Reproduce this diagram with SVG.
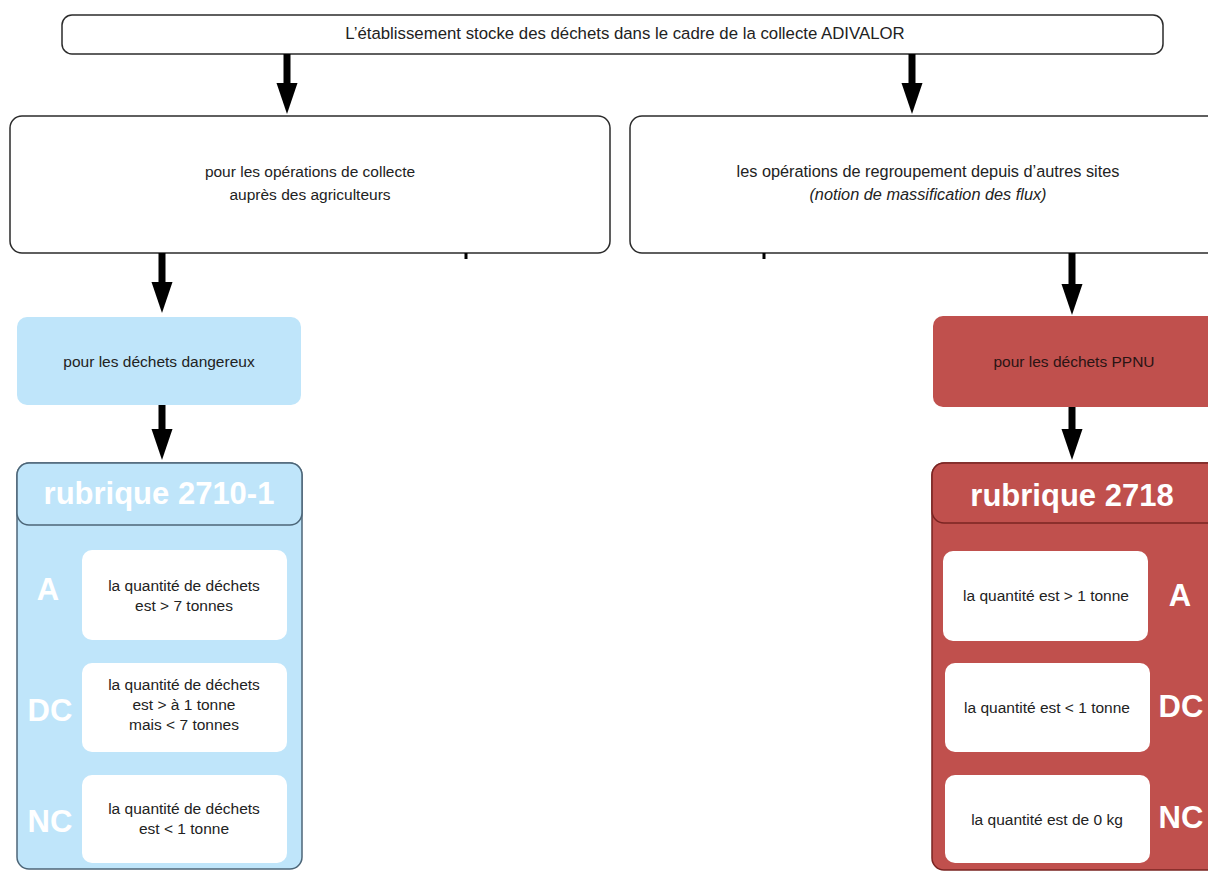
<svg xmlns="http://www.w3.org/2000/svg" width="1208" height="872" viewBox="0 0 1208 872">
<defs>
<style>
.box{fill:#ffffff;stroke:#2b2b2b;stroke-width:1.5}
.t{font-family:"Liberation Sans",Arial,sans-serif;font-size:15.5px;fill:#222;text-anchor:middle}
.ti{font-style:italic}
.blue{fill:#bfe5fa}
.bluec{fill:#bfe5fa;stroke:#4d6678;stroke-width:1.5}
.red{fill:#c0504d}
.redc{fill:#c0504d;stroke:#7a2422;stroke-width:1.5}
.inner{fill:#ffffff}
.hdr{font-family:"Liberation Sans",Arial,sans-serif;font-weight:bold;font-size:31px;fill:#ffffff;text-anchor:middle}
.big{font-family:"Liberation Sans",Arial,sans-serif;font-weight:bold;font-size:31px;fill:#ffffff;text-anchor:middle}
.shaft{stroke:#000;stroke-width:7;fill:none}
.head{fill:#000}
</style>
</defs>

<g id="n-top">
<rect class="box" x="62" y="15" width="1101" height="39" rx="10"/>
<text class="t" x="625" y="39" style="font-size:16.8px">L’établissement stocke des déchets dans le cadre de la collecte ADIVALOR</text>
</g>

<g id="n-collecte">
<rect class="box" x="10" y="116" width="600" height="137" rx="12"/>
<text class="t" x="310" y="177">pour les opérations de collecte</text>
<text class="t" x="310" y="200">auprès des agriculteurs</text>
</g>

<g id="n-regroupement">
<rect class="box" x="630" y="116" width="590" height="137" rx="12"/>
<text class="t" x="928" y="177" style="font-size:16.3px">les opérations de regroupement depuis d’autres sites</text>
<text class="t ti" x="928" y="200" style="font-size:16.3px">(notion de massification des flux)</text>
</g>

<g id="n-dangereux">
<rect class="blue" x="17" y="317" width="284" height="88" rx="10"/>
<text class="t" x="159" y="367">pour les déchets dangereux</text>
</g>

<g id="n-ppnu">
<rect class="red" x="933" y="316" width="285" height="91" rx="10"/>
<text class="t" x="1074" y="367" style="fill:#2a1414">pour les déchets PPNU</text>
</g>

<g id="n-rubrique-2710">
<rect class="bluec" x="17" y="463" width="285" height="406" rx="12"/>
<rect class="bluec" x="17" y="463" width="285" height="62" rx="12"/>
<text class="hdr" x="159" y="504">rubrique 2710-1</text>
<text class="big" x="48" y="600">A</text>
<text class="big" x="50" y="721">DC</text>
<text class="big" x="50" y="832">NC</text>
<rect class="inner" x="82" y="550" width="205" height="90" rx="10"/>
<text class="t" x="184" y="591">la quantité de déchets</text>
<text class="t" x="184" y="611">est &gt; 7 tonnes</text>
<rect class="inner" x="82" y="663" width="205" height="89" rx="10"/>
<text class="t" x="184" y="690">la quantité de déchets</text>
<text class="t" x="184" y="710">est &gt; à 1 tonne</text>
<text class="t" x="184" y="730">mais &lt; 7 tonnes</text>
<rect class="inner" x="82" y="775" width="205" height="88" rx="10"/>
<text class="t" x="184" y="814">la quantité de déchets</text>
<text class="t" x="184" y="834">est &lt; 1 tonne</text>
</g>

<g id="n-rubrique-2718">
<rect class="redc" x="932" y="463" width="290" height="407" rx="12"/>
<rect class="redc" x="932" y="463" width="290" height="60" rx="12"/>
<text class="hdr" x="1072" y="506">rubrique 2718</text>
<rect class="inner" x="943" y="551" width="205" height="90" rx="10"/>
<text class="t" x="1046" y="601">la quantité est &gt; 1 tonne</text>
<rect class="inner" x="945" y="663" width="205" height="89" rx="10"/>
<text class="t" x="1047" y="713">la quantité est &lt; 1 tonne</text>
<rect class="inner" x="945" y="775" width="205" height="88" rx="10"/>
<text class="t" x="1047" y="825">la quantité est de 0 kg</text>
<text class="big" x="1180" y="606">A</text>
<text class="big" x="1181" y="717">DC</text>
<text class="big" x="1181" y="828">NC</text>
</g>

<g id="connectors">
<line class="shaft" x1="287" y1="54" x2="287" y2="84"/>
<polygon class="head" points="276.5,83 297.5,83 287,114"/>
<line class="shaft" x1="912" y1="54" x2="912" y2="84"/>
<polygon class="head" points="901.5,83 922.5,83 912,114"/>
<line class="shaft" x1="162" y1="253" x2="162" y2="283"/>
<polygon class="head" points="151.5,282 172.5,282 162,313"/>
<line class="shaft" x1="1072" y1="253" x2="1072" y2="285"/>
<polygon class="head" points="1061.5,284 1082.5,284 1072,315"/>
<line class="shaft" x1="162" y1="405" x2="162" y2="430"/>
<polygon class="head" points="151.5,429 172.5,429 162,460"/>
<line class="shaft" x1="1072" y1="407" x2="1072" y2="430"/>
<polygon class="head" points="1061.5,429 1082.5,429 1072,460"/>
<line x1="466" y1="253" x2="466" y2="259" stroke="#000" stroke-width="3"/>
<line x1="764" y1="253" x2="764" y2="259" stroke="#000" stroke-width="3"/>
</g>
</svg>
